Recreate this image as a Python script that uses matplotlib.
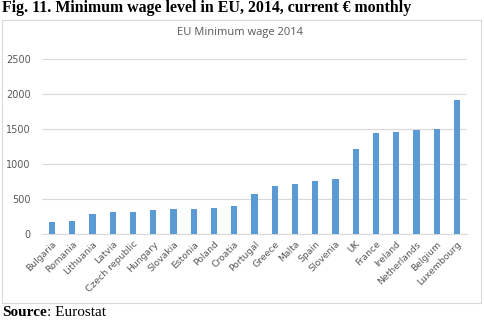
import matplotlib.pyplot as plt
import matplotlib.patches as mpatches

countries = ['Bulgaria', 'Romania', 'Lithuania', 'Latvia', 'Czech republic', 'Hungary',
             'Slovakia', 'Estonia', 'Poland', 'Croatia', 'Portugal', 'Greece', 'Malta',
             'Spain', 'Slovenia', 'UK', 'France', 'Ireland', 'Netherlands', 'Belgium',
             'Luxembourg']
wages = [174, 190, 290, 320, 310, 342, 352, 355, 377, 405, 566, 684, 718, 753, 789,
         1217, 1445, 1462, 1486, 1502, 1921]
yticks = [0, 500, 1000, 1500, 2000, 2500]

BAR = '#5B9BD5'
GRID = '#D9D9D9'
TXT = '#595959'

fig = plt.figure(figsize=(4.85, 3.22), dpi=100)

# chart frame
fig.patches.append(mpatches.Rectangle((2 / 485, 1 - 303 / 322), 479 / 485, 283 / 322,
                                      transform=fig.transFigure, fill=False,
                                      edgecolor=GRID, linewidth=0.8))

ax = fig.add_axes([42 / 485, 88 / 322, 425 / 485, 175 / 322])
x = range(len(countries))
ax.bar(x, wages, width=0.31, color=BAR, zorder=3)
ax.set_xlim(-0.5, len(countries) - 0.5)
ax.set_ylim(0, 2500)
ax.set_yticks(yticks)
ax.set_yticklabels([str(v) for v in yticks], fontsize=7, color=TXT)
ax.set_xticks(list(x))
ax.set_xticklabels(countries, rotation=45, ha='right', rotation_mode='anchor',
                   fontsize=6.7, color=TXT)
ax.tick_params(length=0, pad=4)
ax.tick_params(axis='y', pad=8)
ax.grid(axis='y', color=GRID, linewidth=0.8, zorder=0)
for s in ['top', 'right', 'left']:
    ax.spines[s].set_visible(False)
ax.spines['bottom'].set_color(GRID)
ax.spines['bottom'].set_linewidth(0.8)

fig.text(240 / 485, 1 - 33 / 322, 'EU Minimum wage 2014', ha='center', va='center',
         fontsize=8, color=TXT, family='Open Sans')

fig.text(2 / 485, 1 - 8 / 322, 'Fig. 11. Minimum wage level in EU, 2014, current € monthly',
         ha='left', va='center', fontsize=11.4, fontweight='bold', family='Liberation Serif')

# "Source" bold, rest regular, glued together
src = fig.text(2 / 485, 1 - 313 / 322, 'Source', ha='left', va='center', fontsize=11,
               fontweight='bold', family='Liberation Serif')
ax.annotate(': Eurostat', xy=(1, 0.5), xycoords=src, ha='left', va='center',
            fontsize=11, family='Liberation Serif', annotation_clip=False)

fig.savefig('out.png', dpi=100)
